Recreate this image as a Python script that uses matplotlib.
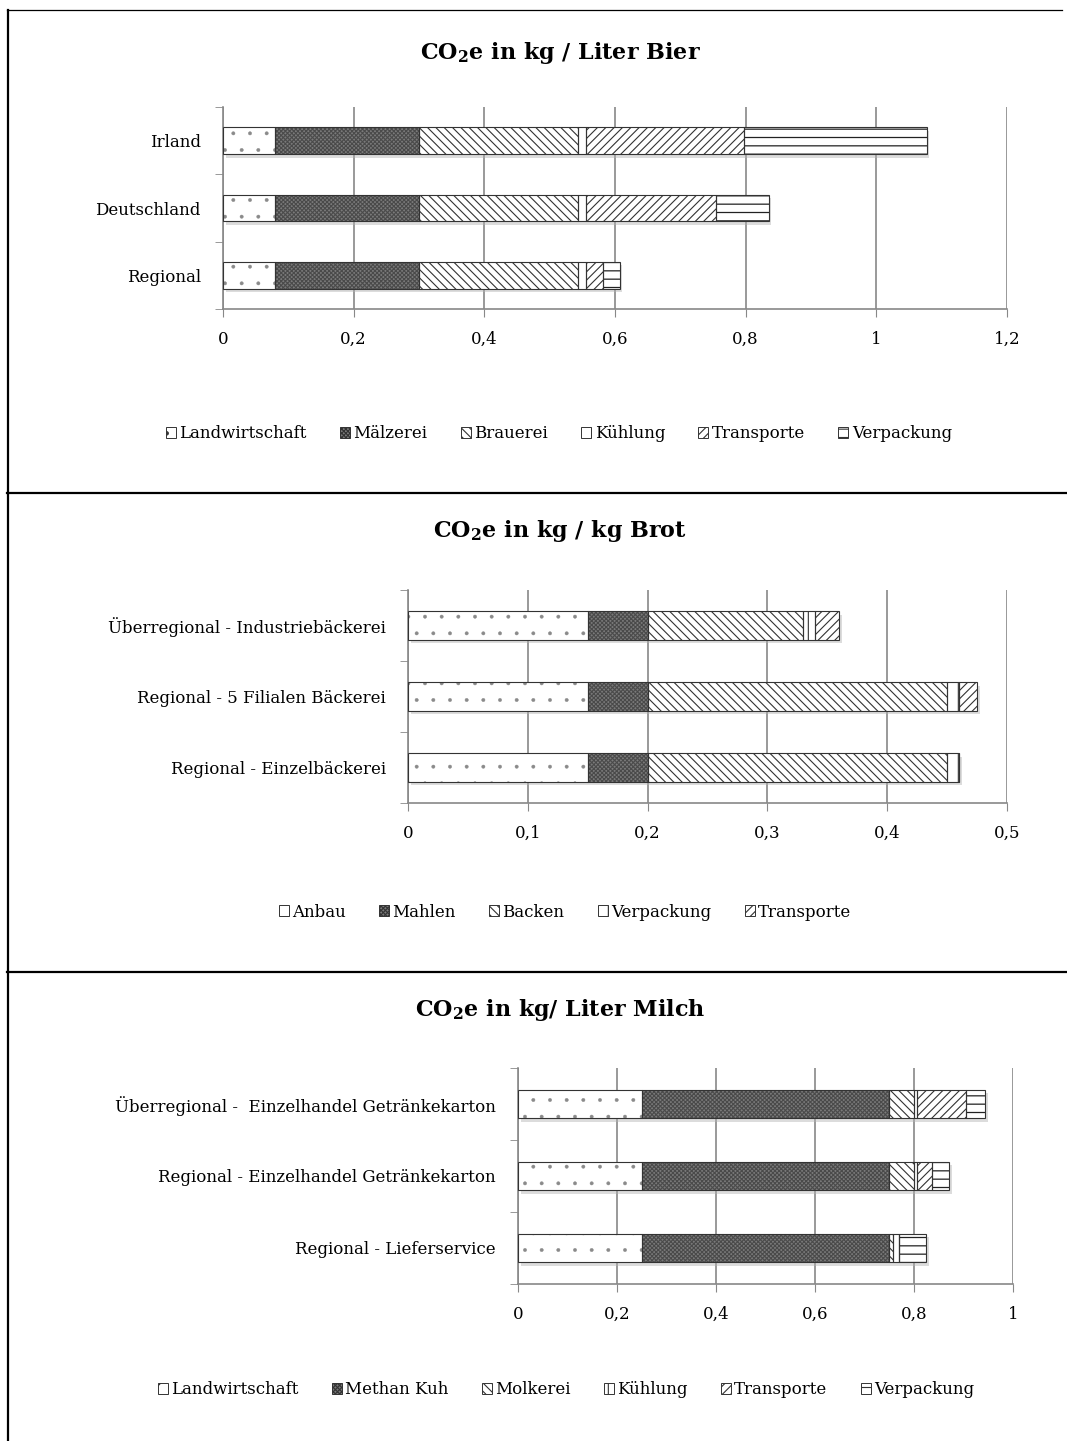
import matplotlib
matplotlib.use('Agg')
import matplotlib.pyplot as plt
from matplotlib.lines import Line2D
from matplotlib.ticker import FuncFormatter, FixedLocator
from matplotlib.transforms import ScaledTranslation

plt.rcParams['font.family'] = ['DejaVu Serif']
plt.rcParams['mathtext.fontset'] = 'dejavuserif'
plt.rcParams['hatch.linewidth'] = 0.8

# Bier, kg CO2e je Liter
bier_cats = ['Regional', 'Deutschland', 'Irland']
bier_parts = ['Landwirtschaft', 'Mälzerei', 'Brauerei', 'Kühlung', 'Transporte', 'Verpackung']
bier_landwirtschaft = [0.08, 0.08, 0.08]
bier_maelzerei = [0.22, 0.22, 0.22]
bier_brauerei = [0.243, 0.243, 0.243]
bier_kuehlung = [0.012, 0.012, 0.012]
bier_transporte = [0.026, 0.20, 0.242]
bier_verpackung = [0.026, 0.08, 0.28]

# Brot, kg CO2e je kg
brot_cats = ['Regional - Einzelbäckerei', 'Regional - 5 Filialen Bäckerei',
             'Überregional - Industriebäckerei']
brot_parts = ['Anbau', 'Mahlen', 'Backen', 'Verpackung', 'Transporte']
brot_anbau = [0.15, 0.15, 0.15]
brot_mahlen = [0.05, 0.05, 0.05]
brot_backen = [0.25, 0.25, 0.13]
brot_verpackung = [0.01, 0.01, 0.01]
brot_transporte = [0.0, 0.015, 0.02]

# Milch, kg CO2e je Liter
milch_cats = ['Regional - Lieferservice', 'Regional - Einzelhandel Getränkekarton',
              'Überregional -  Einzelhandel Getränkekarton']
milch_parts = ['Landwirtschaft', 'Methan Kuh', 'Molkerei', 'Kühlung', 'Transporte', 'Verpackung']
milch_landwirtschaft = [0.25, 0.25, 0.25]
milch_methan = [0.50, 0.50, 0.50]
milch_molkerei = [0.008, 0.05, 0.05]
milch_kuehlung = [0.012, 0.006, 0.006]
milch_transporte = [0.0, 0.03, 0.10]
milch_verpackung = [0.055, 0.035, 0.037]

# fill patterns (black & white print style): face, hatch, hatch colour, hatch width
DOTS = ('white', '.', '#8a8a8a', 0.3)
CHECK = ('#7a7a7a', 'xxxxxxxx', '#4a4a4a', 0.8)
BACK = ('white', '\\\\\\\\', '#333333', 0.8)
VERT = ('white', '|', '#333333', 0.8)
FWD = ('white', '////', '#333333', 0.8)
HORIZ = ('white', '--', '#222222', 0.9)

W, H = 1067, 1441
fig = plt.figure(figsize=(W / 100, H / 100), dpi=100)


def px_axes(l, t, r, b):
    return fig.add_axes([l / W, 1 - b / H, (r - l) / W, (b - t) / H])


def comma(v, pos):
    return ('%g' % v).replace('.', ',')


def stacked(ax, cats, series, names, styles, xmax, step):
    y = list(range(len(cats)))
    totals = [sum(vals) for vals in zip(*series)]
    shadow = ax.transData + ScaledTranslation(2 / 72, -2.5 / 72, fig.dpi_scale_trans)
    ax.barh(y, totals, height=0.4, color='0.7', alpha=0.45, linewidth=0,
            transform=shadow, zorder=2)
    left = [0.0] * len(cats)
    handles = []
    for vals, name, (face, hatch, hcol, hlw) in zip(series, names, styles):
        # pattern fill first, then the dark segment outline on top
        with plt.rc_context({'hatch.linewidth': hlw}):
            bars = ax.barh(y, vals, left=left, height=0.4, facecolor=face, hatch=hatch,
                           edgecolor=hcol, linewidth=0, label=name, zorder=3)
        ax.barh(y, vals, left=left, height=0.4, facecolor='none',
                edgecolor='#333333', linewidth=0.8, zorder=4)
        handles.append(bars)
        left = [a + b for a, b in zip(left, vals)]
    ax.set_xlim(0, xmax)
    ax.set_ylim(-0.5, len(cats) - 0.5)
    ticks = [i * step for i in range(int(round(xmax / step)) + 1)]
    ax.xaxis.set_major_locator(FixedLocator(ticks))
    ax.xaxis.set_major_formatter(FuncFormatter(comma))
    ax.set_yticks(y)
    ax.set_yticklabels(cats)
    ax.set_yticks([i - 0.5 for i in range(len(cats) + 1)], minor=True)
    ax.tick_params(axis='y', which='major', length=0, pad=16, labelsize=12)
    ax.tick_params(axis='y', which='minor', length=6, color='#888888')
    ax.tick_params(axis='x', length=6, color='#888888', pad=10, labelsize=12)
    ax.grid(axis='x', color='#888888', linewidth=1.2, zorder=0)
    ax.set_axisbelow(True)
    for s in ('top', 'right'):
        ax.spines[s].set_visible(False)
    for s in ('left', 'bottom'):
        ax.spines[s].set_color('#888888')
        ax.spines[s].set_linewidth(1.2)
    return handles


six = [DOTS, CHECK, BACK, VERT, FWD, HORIZ]
five = [DOTS, CHECK, BACK, VERT, FWD]

ax1 = px_axes(223, 107, 1007, 309)
h1 = stacked(ax1, bier_cats,
             [bier_landwirtschaft, bier_maelzerei, bier_brauerei,
              bier_kuehlung, bier_transporte, bier_verpackung],
             bier_parts, six, 1.2, 0.2)
ax2 = px_axes(408, 590, 1007, 803)
h2 = stacked(ax2, brot_cats,
             [brot_anbau, brot_mahlen, brot_backen, brot_verpackung, brot_transporte],
             brot_parts, five, 0.5, 0.1)
ax3 = px_axes(518, 1068, 1013, 1284)
h3 = stacked(ax3, milch_cats,
             [milch_landwirtschaft, milch_methan, milch_molkerei,
              milch_kuehlung, milch_transporte, milch_verpackung],
             milch_parts, six, 1.0, 0.2)

titles = [(r'CO$_\mathbf{2}$e in kg / Liter Bier', 53),
          (r'CO$_\mathbf{2}$e in kg / kg Brot', 531),
          (r'CO$_\mathbf{2}$e in kg/ Liter Milch', 1010)]
for text, ty in titles:
    fig.text(560 / W, 1 - ty / H, text, ha='center', va='center',
             fontsize=16, fontweight='bold')

for handles, names, cx, cy in [(h1, bier_parts, 559, 434),
                                (h2, brot_parts, 565, 912),
                                (h3, milch_parts, 566, 1390)]:
    leg = fig.legend(handles, names, loc='center', bbox_to_anchor=(cx / W, 1 - cy / H),
                     ncol=len(names), frameon=False, fontsize=12, handlelength=0.6,
                     handleheight=0.6, handletextpad=0.2, columnspacing=2.0)
    for patch in leg.get_patches():
        patch.set_linewidth(0.7)
        patch.set_edgecolor('#333333')

# table frame around the three charts
frame = dict(color='black', transform=None)
fig.add_artist(Line2D([7.5, 7.5], [0, H - 10], lw=1.6, **frame))
fig.add_artist(Line2D([7, 1062], [H - 10, H - 10], lw=0.9, **frame))
fig.add_artist(Line2D([7, W], [H - 493, H - 493], lw=1.6, **frame))
fig.add_artist(Line2D([7, W], [H - 972, H - 972], lw=1.6, **frame))

fig.savefig('out.png', dpi=100)
